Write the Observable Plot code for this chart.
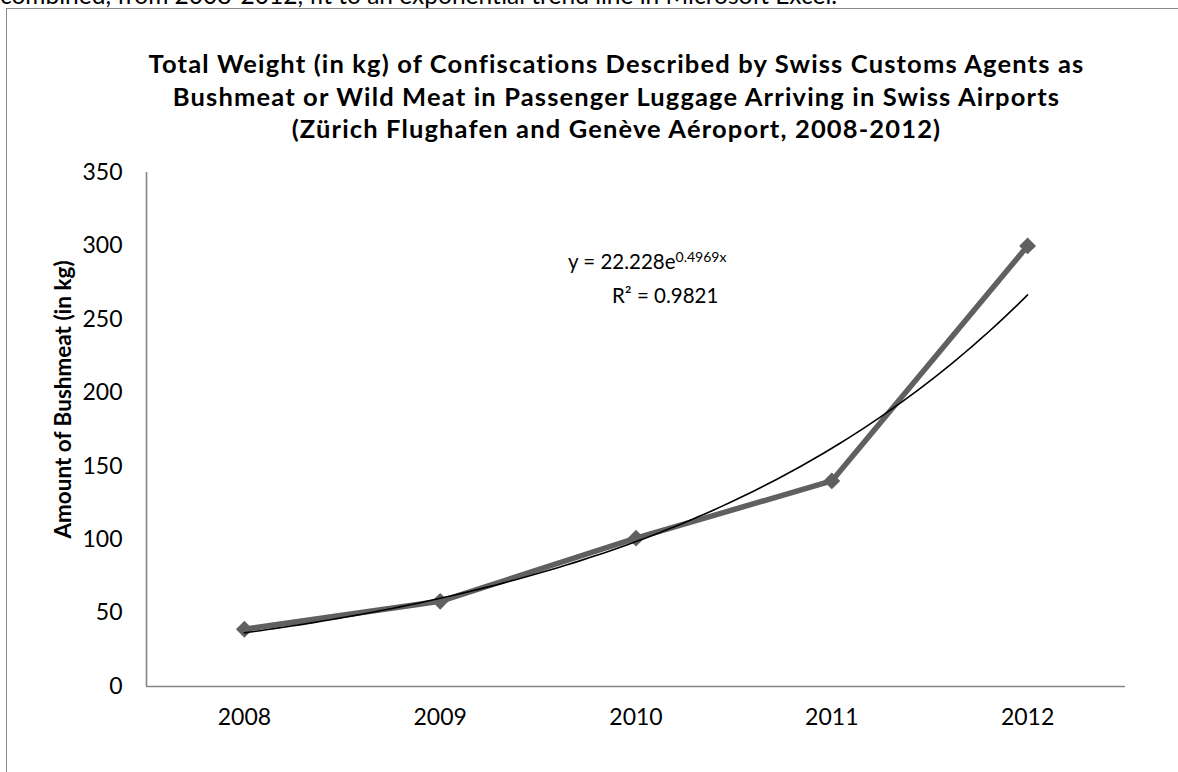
<!DOCTYPE html>
<html>
<head>
<meta charset="utf-8">
<script src="https://cdn.jsdelivr.net/npm/d3@7"></script>
<script src="https://cdn.jsdelivr.net/npm/@observablehq/plot@0.6"></script>
<style>
  html, body { margin: 0; padding: 0; background: #fff; overflow: hidden; }
  body { width: 1178px; height: 772px; position: relative; font-family: Lato, "Open Sans", sans-serif; color: #000; }
  #topnote { position: absolute; left: 0; top: -20px; font-size: 24.5px; white-space: nowrap; }
  #frame { position: absolute; left: 6px; top: 8px; width: 1180px; height: 780px; border-left: 1.5px solid #8a8a8a; border-top: 1.5px solid #8a8a8a; }
  #chart { position: absolute; left: 0; top: 0; }
  #title { position: absolute; left: 0; width: 1233px; top: 47px; text-align: center; font-weight: bold; font-size: 25.5px; letter-spacing: 1.15px; line-height: 32.5px; }
  .eq { position: absolute; font-size: 20.5px; white-space: nowrap; }
  .eq sup { font-size: 14px; vertical-align: 7px; }
</style>
</head>
<body>
<div id="topnote">combined, from 2008-2012, fit to an exponential trend line in Microsoft Excel.</div>
<div id="frame"></div>
<div id="chart"></div>
<div id="title"></div>
<div class="eq" id="eq1" style="left:568px; top:248px;"></div>
<div class="eq" id="eq2" style="left:612px; top:283px;"></div>
<script>
// ---- data ----
const years = [2008, 2009, 2010, 2011, 2012];
const weightKg = [39, 58, 101, 140, 300];
const yTicks = [0, 50, 100, 150, 200, 250, 300, 350];
const trendA = 22.228;   // from the chart's equation label
const trendB = 0.4969;
const rSquared = "0.9821";
const titleLines = [
  "Total Weight (in kg) of Confiscations Described by Swiss Customs Agents as",
  "Bushmeat or Wild Meat in Passenger Luggage Arriving in Swiss Airports",
  "(Zürich Flughafen and Genève Aéroport, 2008-2012)"
];
const yLabel = "Amount of Bushmeat (in kg)";

// ---- build ----
const series = years.map((year, i) => ({year, kg: weightKg[i]}));
const trend = d3.range(0, 101).map(k => {
  const t = 1 + 4 * k / 100;
  return {year: years[0] - 1 + t, kg: trendA * Math.exp(trendB * t)};
});

document.getElementById("title").innerHTML = titleLines.join("<br>");
document.getElementById("eq1").innerHTML = `y = ${trendA}e<sup>${trendB}x</sup>`;
document.getElementById("eq2").textContent = `R² = ${rSquared}`;

const chart = Plot.plot({
  width: 1178,
  height: 772,
  marginLeft: 146,
  marginRight: 53,
  marginTop: 172,
  marginBottom: 86,
  style: {fontFamily: "Lato, 'Open Sans', sans-serif", fontSize: "23px", color: "#000", background: "transparent", overflow: "visible"},
  x: {domain: [years[0] - 0.5, years[years.length - 1] + 0.5]},
  y: {domain: [0, 350]},
  marks: [
    Plot.axisY({ticks: yTicks, tickSize: 0, tickPadding: 24, label: null, fontSize: 23}),
    Plot.axisX({ticks: years, tickFormat: d => String(d), tickSize: 0, tickPadding: 22, label: null, fontSize: 23}),
    Plot.text([yLabel], {frameAnchor: "left", textAnchor: "middle", dx: -83, dy: -30, rotate: -90, fontWeight: "bold", fontSize: 22.5, text: d => d}),
    Plot.ruleY([0], {stroke: "#868686", strokeWidth: 1.6}),
    Plot.ruleX([years[0] - 0.5], {stroke: "#868686", strokeWidth: 1.6}),
    Plot.line(series, {x: "year", y: "kg", stroke: "#606060", strokeWidth: 5.5}),
    Plot.dot(series, {x: "year", y: "kg", symbol: "diamond2", r: 7.6, fill: "#606060", stroke: "none"}),
    Plot.line(trend, {x: "year", y: "kg", stroke: "#000", strokeWidth: 1.6, curve: "linear"})
  ]
});
document.getElementById("chart").appendChild(chart);
</script>
</body>
</html>
